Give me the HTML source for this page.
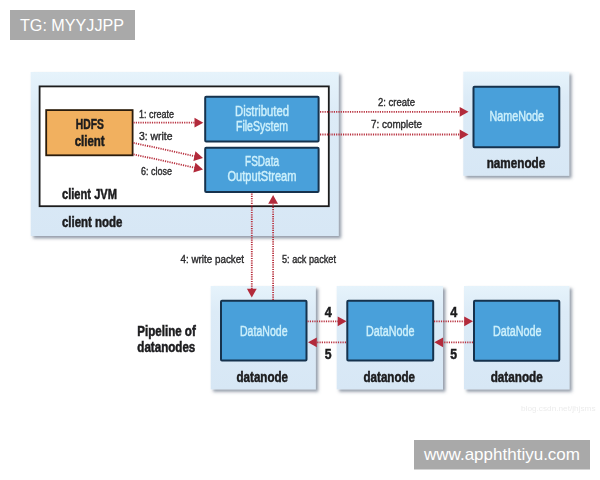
<!DOCTYPE html>
<html><head><meta charset="utf-8">
<style>
html,body{margin:0;padding:0;background:#fff;}
body{width:600px;height:480px;overflow:hidden;position:relative;font-family:"Liberation Sans",sans-serif;}
svg{position:absolute;left:0;top:0;display:block;}
text{font-family:"Liberation Sans",sans-serif;}
.b{font-weight:bold;fill:#1b1b1d;font-size:14px;stroke:#1b1b1d;stroke-width:0.5;}
.s{fill:#2c2c2e;font-size:11.5px;stroke:#2c2c2e;stroke-width:0.4;}
.w{fill:#cdf0fb;font-size:14px;stroke:#cdf0fb;stroke-width:0.45;}
.ar{stroke:#b8313f;stroke-width:1.8;stroke-dasharray:1.2 1.1;fill:none;}
.ah{fill:#b22a3a;}
.ib{fill:#4aa0da;stroke:#15324e;stroke-width:2;rx:1px;}
</style></head>
<body>
<svg width="600" height="480" viewBox="0 0 600 480">
<defs>
<filter id="sh" x="-10%" y="-10%" width="125%" height="125%">
<feDropShadow dx="2.4" dy="2.4" stdDeviation="1.7" flood-color="#4d5a70" flood-opacity="0.6"/>
</filter>
<filter id="bl"><feGaussianBlur stdDeviation="0.45"/></filter>
<linearGradient id="og" x1="0" y1="0" x2="0" y2="1">
<stop offset="0" stop-color="#e6f3fb"/><stop offset="0.25" stop-color="#dcebf7"/><stop offset="1" stop-color="#d7e7f5"/>
</linearGradient>
</defs>
<rect width="600" height="480" fill="#fff"/>
<g filter="url(#bl)">
<rect x="30.7" y="72" width="308" height="164" fill="url(#og)" filter="url(#sh)"/>
<rect x="39.6" y="86.4" width="289.2" height="119.8" fill="#fff" stroke="#1a1a1a" stroke-width="1.8"/>
<rect x="46.2" y="110.1" width="86.4" height="45.2" fill="#f1b05f" stroke="#2a1a08" stroke-width="1.8"/>
<rect class="ib" x="205.2" y="96.8" width="113.4" height="44.7"/>
<rect class="ib" x="205.2" y="147.7" width="113.4" height="44.3"/>
<rect x="463.3" y="71.7" width="105.9" height="104.1" fill="url(#og)" filter="url(#sh)"/>
<rect class="ib" x="473.5" y="86.8" width="85.8" height="60.5"/>
<rect x="210.7" y="286" width="105.1" height="103.4" fill="url(#og)" filter="url(#sh)"/>
<rect class="ib" x="221" y="300.7" width="85.5" height="59.8"/>
<rect x="336.7" y="286" width="106.3" height="103.4" fill="url(#og)" filter="url(#sh)"/>
<rect class="ib" x="347.3" y="300.7" width="85.9" height="59.8"/>
<rect x="464" y="286" width="105.5" height="103.4" fill="url(#og)" filter="url(#sh)"/>
<rect class="ib" x="474" y="300.7" width="85.3" height="60.1"/>
<path class="ar" d="M133.5 122.7L195 122.7"/>
<path class="ah" d="M203.3 122.7L194.5 127.6L194.5 117.8z"/>
<path class="ar" d="M133.5 142.8L194.89 156.23"/>
<path class="ah" d="M203 158L193.36 160.91L195.45 151.33z"/>
<path class="ar" d="M133.5 154.3L194.89 167.73"/>
<path class="ah" d="M203 169.5L193.36 172.41L195.45 162.83z"/>
<path class="ar" d="M320 111.8L460.2 111.8"/>
<path class="ah" d="M468.5 111.8L459.7 116.7L459.7 106.9z"/>
<path class="ar" d="M320 134.5L460.2 134.5"/>
<path class="ah" d="M468.5 134.5L459.7 139.4L459.7 129.6z"/>
<path class="ar" d="M251.8 193.5L251.8 289.2"/>
<path class="ah" d="M251.8 297.5L246.9 288.7L256.7 288.7z"/>
<path class="ar" d="M273.1 300L273.1 203.3"/>
<path class="ah" d="M273.1 195L278 203.8L268.2 203.8z"/>
<path class="ar" d="M307.5 321.3L338.2 321.3"/>
<path class="ah" d="M346.5 321.3L337.7 326.2L337.7 316.4z"/>
<path class="ar" d="M346 342.3L316.3 342.3"/>
<path class="ah" d="M308 342.3L316.8 337.4L316.8 347.2z"/>
<path class="ar" d="M434 321.3L464.7 321.3"/>
<path class="ah" d="M473 321.3L464.2 326.2L464.2 316.4z"/>
<path class="ar" d="M473 342.3L442.6 342.3"/>
<path class="ah" d="M434.3 342.3L443.1 337.4L443.1 347.2z"/>
<text class="b" x="89.8" y="129.4" text-anchor="middle" textLength="28" lengthAdjust="spacingAndGlyphs">HDFS</text>
<text class="b" x="89.7" y="146" text-anchor="middle" textLength="30" lengthAdjust="spacingAndGlyphs">client</text>
<text class="b" x="62" y="199" textLength="55" lengthAdjust="spacingAndGlyphs">client JVM</text>
<text class="b" x="62" y="226.7" textLength="60.5" lengthAdjust="spacingAndGlyphs">client node</text>
<text class="s" x="139" y="117.5" textLength="35" lengthAdjust="spacingAndGlyphs">1: create</text>
<text class="s" x="139" y="140" textLength="33.5" lengthAdjust="spacingAndGlyphs">3: write</text>
<text class="s" x="141" y="175" textLength="31" lengthAdjust="spacingAndGlyphs">6: close</text>
<text class="s" x="378" y="105.5" textLength="37" lengthAdjust="spacingAndGlyphs">2: create</text>
<text class="s" x="371" y="128" textLength="51" lengthAdjust="spacingAndGlyphs">7: complete</text>
<text class="s" x="180.5" y="262.5" textLength="63.5" lengthAdjust="spacingAndGlyphs">4: write packet</text>
<text class="s" x="282" y="262.5" textLength="54" lengthAdjust="spacingAndGlyphs">5: ack packet</text>
<text class="w" x="262" y="116" text-anchor="middle" textLength="54" lengthAdjust="spacingAndGlyphs">Distributed</text>
<text class="w" x="262" y="130.5" text-anchor="middle" textLength="52" lengthAdjust="spacingAndGlyphs">FileSystem</text>
<text class="w" x="262" y="166" text-anchor="middle" textLength="34" lengthAdjust="spacingAndGlyphs">FSData</text>
<text class="w" x="262" y="180.7" text-anchor="middle" textLength="69" lengthAdjust="spacingAndGlyphs">OutputStream</text>
<text class="w" x="489.5" y="121.3" textLength="54.5" lengthAdjust="spacingAndGlyphs">NameNode</text>
<text class="b" x="486.7" y="167.5" textLength="58.5" lengthAdjust="spacingAndGlyphs">namenode</text>
<text class="w" x="240" y="335.6" textLength="47.5" lengthAdjust="spacingAndGlyphs">DataNode</text>
<text class="w" x="366" y="335.6" textLength="48.5" lengthAdjust="spacingAndGlyphs">DataNode</text>
<text class="w" x="493" y="335.6" textLength="48.5" lengthAdjust="spacingAndGlyphs">DataNode</text>
<text class="b" x="236.5" y="381.5" textLength="51.5" lengthAdjust="spacingAndGlyphs">datanode</text>
<text class="b" x="363.5" y="381.5" textLength="51.5" lengthAdjust="spacingAndGlyphs">datanode</text>
<text class="b" x="490.7" y="381.5" textLength="52" lengthAdjust="spacingAndGlyphs">datanode</text>
<text class="b" x="137.3" y="336" textLength="58.5" lengthAdjust="spacingAndGlyphs">Pipeline of</text>
<text class="b" x="137.3" y="352" textLength="58" lengthAdjust="spacingAndGlyphs">datanodes</text>
<g style="font-size:15px">
<text class="b" x="324.7" y="317.3" textLength="7" lengthAdjust="spacingAndGlyphs">4</text>
<text class="b" x="324.7" y="359.2" textLength="6.8" lengthAdjust="spacingAndGlyphs">5</text>
<text class="b" x="450.3" y="317.3" textLength="7" lengthAdjust="spacingAndGlyphs">4</text>
<text class="b" x="450.3" y="359.2" textLength="6.8" lengthAdjust="spacingAndGlyphs">5</text>
</g>
<text x="521" y="411.3" font-size="8" fill="#ececec" textLength="74.5" lengthAdjust="spacingAndGlyphs">blog.csdn.net/jhjsms</text>
</g>
<rect x="10" y="10" width="125" height="30" fill="#a9a9a9"/>
<text x="20" y="31" font-size="16.3" fill="#fff" textLength="104" lengthAdjust="spacingAndGlyphs">TG: MYYJJPP</text>
<rect x="414" y="440" width="176" height="29.5" fill="#a9a9a9"/>
<text x="424" y="459.6" font-size="17" fill="#fff" textLength="156" lengthAdjust="spacingAndGlyphs">www.apphthtiyu.com</text>
</svg>
</body></html>
